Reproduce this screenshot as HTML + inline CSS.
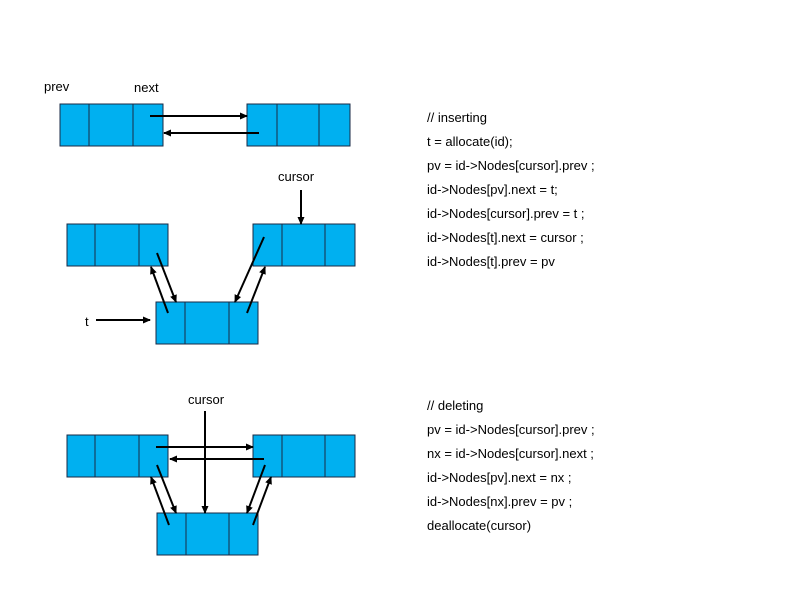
<!DOCTYPE html>
<html><head><meta charset="utf-8"><style>
html,body{margin:0;padding:0;background:#fff;}
svg{display:block;}
text{font-family:"Liberation Sans",Arial,sans-serif;font-size:13px;fill:#000;}
</style></head><body>
<svg width="794" height="595" viewBox="0 0 794 595" xmlns="http://www.w3.org/2000/svg">
<defs>
<marker id="a" markerWidth="8" markerHeight="8" refX="7" refY="4" orient="auto" markerUnits="userSpaceOnUse">
<path d="M0,0.5 L8,4 L0,7.5 Z" fill="#000"/>
</marker>
</defs>
<g fill="#00b0f0" stroke="#1a2a44" stroke-width="1">
<!-- top -->
<rect x="60" y="104" width="103" height="42"/><line x1="89" y1="104" x2="89" y2="146"/><line x1="133" y1="104" x2="133" y2="146"/>
<rect x="247" y="104" width="103" height="42"/><line x1="277" y1="104" x2="277" y2="146"/><line x1="319" y1="104" x2="319" y2="146"/>
<!-- middle -->
<rect x="67" y="224" width="101" height="42"/><line x1="95" y1="224" x2="95" y2="266"/><line x1="139" y1="224" x2="139" y2="266"/>
<rect x="253" y="224" width="102" height="42"/><line x1="282" y1="224" x2="282" y2="266"/><line x1="325" y1="224" x2="325" y2="266"/>
<rect x="156" y="302" width="102" height="42"/><line x1="185" y1="302" x2="185" y2="344"/><line x1="229" y1="302" x2="229" y2="344"/>
<!-- bottom -->
<rect x="67" y="435" width="101" height="42"/><line x1="95" y1="435" x2="95" y2="477"/><line x1="139" y1="435" x2="139" y2="477"/>
<rect x="253" y="435" width="102" height="42"/><line x1="282" y1="435" x2="282" y2="477"/><line x1="325" y1="435" x2="325" y2="477"/>
<rect x="157" y="513" width="101" height="42"/><line x1="186" y1="513" x2="186" y2="555"/><line x1="229" y1="513" x2="229" y2="555"/>
</g>
<g stroke="#000" stroke-width="2" fill="none" marker-end="url(#a)">
<line x1="150" y1="116" x2="247" y2="116"/>
<line x1="259" y1="133" x2="164" y2="133"/>
<line x1="301" y1="190" x2="301" y2="224"/>
<line x1="96" y1="320" x2="150" y2="320"/>
<line x1="157" y1="253" x2="176" y2="302"/>
<line x1="168" y1="313" x2="151" y2="267"/>
<line x1="264" y1="237" x2="235" y2="302"/>
<line x1="247" y1="313" x2="265" y2="267"/>
<line x1="156" y1="447" x2="253" y2="447"/>
<line x1="264" y1="459" x2="170" y2="459"/>
<line x1="205" y1="411" x2="205" y2="513"/>
<line x1="157" y1="465" x2="176" y2="513"/>
<line x1="169" y1="525" x2="151" y2="477"/>
<line x1="265" y1="465" x2="247" y2="513"/>
<line x1="253" y1="525" x2="271" y2="477"/>
</g>
<text x="44" y="91">prev</text>
<text x="134" y="92">next</text>
<text x="278" y="181">cursor</text>
<text x="85" y="326">t</text>
<text x="188" y="404">cursor</text>
<text x="427" y="122">// inserting</text>
<text x="427" y="146">t = allocate(id);</text>
<text x="427" y="170">pv = id-&gt;Nodes[cursor].prev ;</text>
<text x="427" y="194">id-&gt;Nodes[pv].next = t;</text>
<text x="427" y="218">id-&gt;Nodes[cursor].prev = t ;</text>
<text x="427" y="242">id-&gt;Nodes[t].next = cursor ;</text>
<text x="427" y="266">id-&gt;Nodes[t].prev = pv</text>
<text x="427" y="410">// deleting</text>
<text x="427" y="434">pv = id-&gt;Nodes[cursor].prev ;</text>
<text x="427" y="458">nx = id-&gt;Nodes[cursor].next ;</text>
<text x="427" y="482">id-&gt;Nodes[pv].next = nx ;</text>
<text x="427" y="506">id-&gt;Nodes[nx].prev = pv ;</text>
<text x="427" y="530">deallocate(cursor)</text>
</svg>
</body></html>
